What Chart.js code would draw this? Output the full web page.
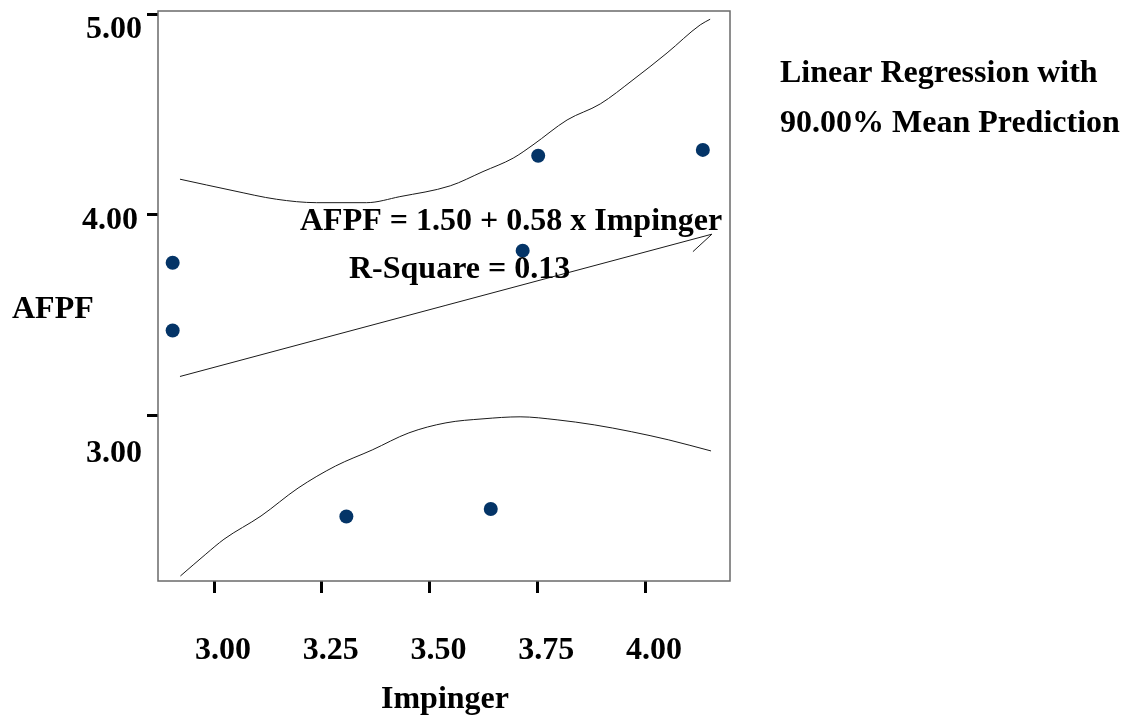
<!DOCTYPE html>
<html>
<head>
<meta charset="utf-8">
<script src="https://cdn.jsdelivr.net/npm/chart.js@4.4.1/dist/chart.umd.min.js"></script>
<style>
  html, body { margin: 0; padding: 0; background: #ffffff; }
  #wrap { width: 1125px; height: 717px; }
</style>
</head>
<body>
<div id="wrap"><canvas id="c" width="1125" height="717"></canvas></div>
<script>
// ---- Data ----
const impinger = [2.904, 2.904, 3.307, 3.642, 3.716, 3.752, 4.134];
const afpf     = [3.762, 3.424, 2.497, 2.535, 3.822, 4.295, 4.324];

// Upper 90% mean prediction band
const upperX = [2.921, 3.044, 3.145, 3.238, 3.354, 3.431, 3.548, 3.624, 3.694, 3.740, 3.819, 3.896, 3.972, 4.051, 4.128, 4.151];
const upperY = [4.178, 4.121, 4.078, 4.061, 4.061, 4.091, 4.145, 4.216, 4.283, 4.349, 4.473, 4.553, 4.673, 4.807, 4.947, 4.975];

// Lower 90% mean prediction band
const lowerX = [2.922, 2.981, 3.023, 3.109, 3.195, 3.282, 3.367, 3.452, 3.538, 3.624, 3.710, 3.796, 3.882, 3.968, 4.055, 4.153];
const lowerY = [2.201, 2.310, 2.384, 2.500, 2.639, 2.749, 2.829, 2.914, 2.964, 2.984, 2.994, 2.979, 2.954, 2.920, 2.879, 2.824];

// Fitted regression line (as drawn, including the small end stroke)
const fitX = [2.921, 4.155, 4.111];
const fitY = [3.195, 3.904, 3.817];

// Axis ticks and labels
const xTickLabels = ['3.00', '3.25', '3.50', '3.75', '4.00'];
const yTickLabels = ['3.00', '4.00', '5.00'];
const xTitle = 'Impinger';
const yTitle = 'AFPF';
const equationText = 'AFPF = 1.50 + 0.58 x Impinger';
const rSquareText = 'R-Square = 0.13';
const legendLines = ['Linear Regression with', '90.00% Mean Prediction'];

// ---- Build chart ----
const toXY = (xs, ys) => xs.map((x, i) => ({ x: x, y: ys[i] }));
const FAMILY = "'Liberation Serif', 'Times New Roman', serif";
const FONT = "bold 32px " + FAMILY;

const overlay = {
  id: 'overlay',
  afterDraw(chart) {
    const ctx = chart.ctx;
    const a = chart.chartArea;
    const ys = chart.scales.y;
    ctx.save();
    // plot frame
    ctx.strokeStyle = '#6a6a6a';
    ctx.lineWidth = 1.5;
    ctx.strokeRect(a.left, a.top, a.right - a.left, a.bottom - a.top);

    ctx.fillStyle = '#000';
    ctx.font = FONT;
    ctx.textBaseline = 'alphabetic';

    // y tick labels (nudged as in the reference)
    const nudgeY = [46, 14, 24];
    const rightEdge = [142, 138, 142];
    ctx.textAlign = 'right';
    ys.ticks.forEach((t, i) => {
      const py = ys.getPixelForValue(t.value);
      ctx.fillText(yTickLabels[i], rightEdge[i], py + nudgeY[i]);
    });

    // axis titles
    ctx.textAlign = 'left';
    ctx.fillText(yTitle, 12, 318);
    ctx.textAlign = 'center';
    ctx.fillText(xTitle, (a.left + a.right) / 2 + 1, 708);

    // equation annotations
    ctx.textAlign = 'left';
    ctx.fillText(equationText, 300, 230);
    ctx.fillText(rSquareText, 349, 278);

    // legend text
    ctx.fillText(legendLines[0], 780, 82);
    ctx.fillText(legendLines[1], 780, 132);
    ctx.restore();
  }
};

const bandStyle = {
  showLine: true,
  borderColor: '#1a1a1a',
  borderWidth: 1,
  pointRadius: 0,
  cubicInterpolationMode: 'monotone',
  order: 2
};

new Chart(document.getElementById('c'), {
  type: 'scatter',
  data: {
    datasets: [
      Object.assign({ label: 'Upper', data: toXY(upperX, upperY) }, bandStyle),
      Object.assign({ label: 'Lower', data: toXY(lowerX, lowerY) }, bandStyle),
      {
        label: 'Fit',
        data: toXY(fitX, fitY),
        showLine: true,
        borderColor: '#1a1a1a',
        borderWidth: 1,
        pointRadius: 0,
        tension: 0,
        order: 2
      },
      {
        label: 'Observed',
        data: toXY(impinger, afpf),
        showLine: false,
        pointRadius: 7,
        pointHoverRadius: 7,
        pointBackgroundColor: '#043467',
        pointBorderWidth: 0,
        order: 1
      }
    ]
  },
  options: {
    responsive: false,
    animation: false,
    devicePixelRatio: 1,
    layout: { padding: { left: 0, top: 11, right: 395, bottom: 0 } },
    plugins: {
      legend: { display: false },
      tooltip: { enabled: false },
      title: { display: false }
    },
    scales: {
      x: {
        type: 'linear',
        min: 2.870,
        max: 4.197,
        afterFit(s) { s.height = 136; },
        border: { display: false },
        grid: {
          display: true,
          drawOnChartArea: false,
          drawTicks: true,
          tickLength: 12,
          tickWidth: 3,
          tickColor: '#000'
        },
        ticks: {
          stepSize: 0.25,
          includeBounds: false,
          labelOffset: 9,
          padding: 39,
          color: '#000',
          font: { family: FAMILY, size: 32, weight: 'bold' },
          callback: (v, i) => xTickLabels[i]
        }
      },
      y: {
        type: 'linear',
        min: 2.176,
        max: 5.016,
        afterFit(s) { s.width = 158; },
        border: { display: false },
        grid: {
          display: true,
          drawOnChartArea: false,
          drawTicks: true,
          tickLength: 11,
          tickWidth: 3,
          tickColor: '#000'
        },
        ticks: {
          stepSize: 1,
          includeBounds: false,
          display: false
        }
      }
    }
  },
  plugins: [overlay]
});
</script>
</body>
</html>
